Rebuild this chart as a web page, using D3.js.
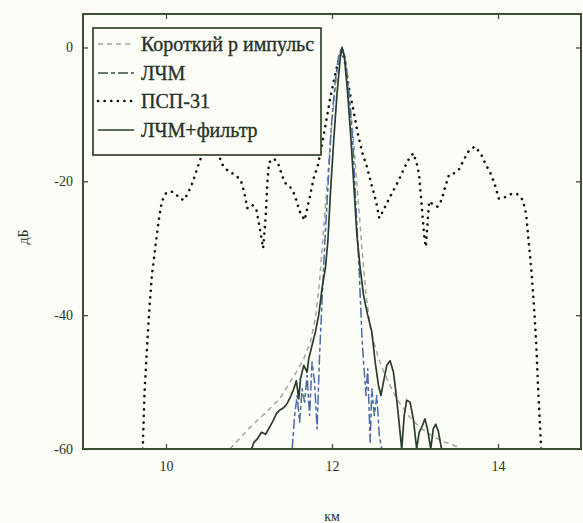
<!DOCTYPE html>
<html>
<head>
<meta charset="utf-8">
<script src="https://cdn.jsdelivr.net/npm/d3@7"></script>
<style>
  html, body { margin: 0; padding: 0; background: #fdfdf8; }
  svg { display: block; }
  svg text { fill: #263326; }
</style>
</head>
<body>
<svg id="chart" width="583" height="523"></svg>
<script>
// Series names, in legend order
const seriesNames = ["Короткий р импульс", "ЛЧМ", "ПСП-31", "ЛЧМ+фильтр"];

// Axis ticks
const xTicks = [10, 12, 14];
const yTicks = [0, -20, -40, -60];

// Range (km) and level (dB) samples for each series
const shortPulseX = [10.77,10.89,11.01,11.13,11.25,11.37,11.47,11.57,11.66,11.74,11.80,11.85,11.90,11.95,12.00,12.05,12.09,12.12,12.16,12.21,12.26,12.31,12.36,12.41,12.47,12.56,12.66,12.78,12.92,13.06,13.20,13.34,13.46,13.56];
const shortPulseY = [-60,-58.4,-56.8,-55.4,-54,-52.5,-50.5,-48.5,-46.5,-44,-40.5,-35,-27,-19,-11,-5,-1.5,0,-2,-7,-14,-22,-30,-37,-42.5,-46.5,-49.5,-52.5,-55,-56.8,-58,-58.9,-59.4,-60];

const lfmX = [11.52,11.55,11.58,11.61,11.64,11.67,11.70,11.73,11.76,11.79,11.82,11.85,11.88,11.91,11.95,11.99,12.04,12.08,12.12,12.16,12.20,12.25,12.29,12.33,12.36,12.38,12.41,12.43,12.46,12.48,12.51,12.54,12.57,12.60];
const lfmY = [-60,-55,-52,-56,-51,-53,-49,-55,-47,-50,-57,-46,-38,-30,-21,-12,-5,-1.2,0,-1.5,-6,-14,-24,-34,-43,-47,-52,-48,-59,-51,-55,-52,-58,-60];

const prsX = [9.72,9.74,9.77,9.80,9.83,9.87,9.91,9.95,10.00,10.06,10.11,10.17,10.22,10.27,10.32,10.37,10.42,10.48,10.55,10.62,10.68,10.75,10.83,10.90,10.94,10.98,11.04,11.09,11.13,11.17,11.20,11.22,11.24,11.30,11.35,11.39,11.43,11.49,11.55,11.61,11.67,11.73,11.78,11.83,11.88,11.93,11.98,12.03,12.08,12.12,12.16,12.21,12.26,12.31,12.36,12.42,12.47,12.53,12.57,12.62,12.68,12.73,12.79,12.86,12.92,12.98,13.02,13.05,13.07,13.09,13.11,13.13,13.17,13.22,13.27,13.32,13.36,13.41,13.47,13.53,13.58,13.64,13.72,13.79,13.85,13.91,13.96,14.01,14.08,14.16,14.23,14.30,14.34,14.37,14.40,14.43,14.46,14.48,14.50,14.52];
const prsY = [-60,-52,-45,-39,-34,-30,-26,-23,-21.8,-21.5,-21.8,-22.6,-22.8,-21.6,-20.2,-18.3,-16.5,-15.2,-14.8,-15.6,-17.5,-18.5,-19.0,-19.8,-21.5,-24.0,-23.5,-24.3,-27.0,-30.0,-25.5,-20.5,-17.2,-16.6,-17.3,-18.8,-20.2,-20.7,-22.0,-24.5,-25.8,-22.5,-19.5,-17.6,-14.5,-11.0,-7.5,-4.5,-1.8,-0.3,-2.5,-6.5,-9.5,-12.8,-15.5,-17.8,-20.2,-23.0,-25.5,-24.3,-22.8,-21.6,-20.2,-18.3,-16.8,-15.8,-17.3,-19.0,-22.0,-25.0,-28.0,-29.8,-23.0,-23.5,-23.8,-22.8,-21.0,-19.0,-18.8,-18.2,-17.0,-15.6,-14.8,-15.8,-17.4,-18.8,-20.4,-22.6,-22.4,-21.9,-21.9,-22.8,-25.0,-29.0,-33.0,-38.0,-44.0,-50.0,-55.0,-60.0];

const lfmFiltX = [11.03,11.06,11.10,11.15,11.20,11.25,11.29,11.33,11.37,11.42,11.46,11.50,11.54,11.57,11.60,11.62,11.66,11.70,11.72,11.76,11.80,11.84,11.88,11.92,11.95,11.98,12.02,12.06,12.10,12.12,12.15,12.19,12.23,12.27,12.30,12.34,12.38,12.43,12.48,12.52,12.56,12.59,12.62,12.66,12.70,12.74,12.77,12.80,12.84,12.87,12.90,12.94,12.98,13.02,13.05,13.09,13.12,13.15,13.19,13.22,13.25,13.28,13.32];
const lfmFiltY = [-60,-59,-58.5,-57.5,-57.8,-56.7,-55.8,-54.7,-54.2,-53.8,-53.2,-52.2,-51.0,-49.8,-52.5,-49.5,-47.5,-48.5,-46.5,-44.5,-42.5,-40,-36,-33,-29,-22,-14,-7,-1.5,0,-1.5,-7,-14,-22,-28,-33,-37,-40,-42.5,-47,-50.5,-52,-50,-47.5,-46.8,-48.5,-51.5,-55,-60,-55,-52.7,-53,-55.5,-60,-57.5,-56.5,-55.5,-57,-60,-57,-56.3,-57.3,-60];

const seriesX = [shortPulseX, lfmX, prsX, lfmFiltX];
const seriesY = [shortPulseY, lfmY, prsY, lfmFiltY];

// Line styles per series
const styles = [
  { color: "#a3a69e", width: 1.5, dash: "5,4" },
  { color: "#4a6aa8", width: 1.5, dash: "10,3,4,3" },
  { color: "#111511", width: 2.6, dash: "0.1,6.5", cap: "round" },
  { color: "#2a3d2a", width: 1.7, dash: null }
];

const frameColor = "#3d4d36";
const fontStack = "Liberation Serif";

const svg = d3.select("#chart");
const plot = { left: 83, right: 581, top: 14, bottom: 449 };

const x = d3.scaleLinear().domain([9, 15]).range([plot.left, plot.right]);
const y = d3.scaleLinear().domain([-60, 5]).range([plot.bottom, plot.top]);

// Clip lines to the axes box
svg.append("defs").append("clipPath").attr("id", "clip")
  .append("rect")
  .attr("x", plot.left).attr("y", plot.top)
  .attr("width", plot.right - plot.left).attr("height", plot.bottom - plot.top);

// Data lines (ПСП-31 first, narrow pulses on top)
const line = d3.line().x(d => x(d[0])).y(d => y(d[1]));
const drawOrder = [2, 0, 1, 3];
const linesG = svg.append("g").attr("clip-path", "url(#clip)");
drawOrder.forEach(i => {
  const pts = seriesX[i].map((v, k) => [v, seriesY[i][k]]);
  const st = styles[i];
  linesG.append("path")
    .datum(pts)
    .attr("d", line)
    .attr("fill", "none")
    .attr("stroke", st.color)
    .attr("stroke-width", st.width)
    .attr("stroke-linecap", st.cap || "butt")
    .attr("stroke-linejoin", "round")
    .attr("stroke-dasharray", st.dash);
});

// Axes: ticks point inward, mirrored on the opposite sides
const tickLen = 5;

const xAxisB = d3.axisBottom(x).tickValues(xTicks).tickSizeInner(-tickLen).tickSizeOuter(0).tickPadding(12)
  .tickFormat(d3.format("d"));
const xAxisT = d3.axisTop(x).tickValues(xTicks).tickSizeInner(-tickLen).tickSizeOuter(0).tickFormat("");
const yAxisL = d3.axisLeft(y).tickValues(yTicks).tickSizeInner(-tickLen).tickSizeOuter(0).tickPadding(10)
  .tickFormat(d => String(d));
const yAxisR = d3.axisRight(y).tickValues(yTicks).tickSizeInner(-tickLen).tickSizeOuter(0).tickFormat("");

function styleAxis(g) {
  g.attr("font-family", fontStack).attr("font-size", 14);
  g.select(".domain").remove();
  g.selectAll(".tick line").attr("stroke", frameColor).attr("stroke-width", 1.3);
  g.selectAll(".tick text").attr("fill", "#263326");
}

svg.append("g").attr("transform", `translate(0,${plot.bottom})`).call(xAxisB).call(styleAxis);
svg.append("g").attr("transform", `translate(0,${plot.top})`).call(xAxisT).call(styleAxis);
svg.append("g").attr("transform", `translate(${plot.left},0)`).call(yAxisL).call(styleAxis);
svg.append("g").attr("transform", `translate(${plot.right},0)`).call(yAxisR).call(styleAxis);

// Axes box
svg.append("rect")
  .attr("x", plot.left).attr("y", plot.top)
  .attr("width", plot.right - plot.left).attr("height", plot.bottom - plot.top)
  .attr("fill", "none").attr("stroke", frameColor).attr("stroke-width", 2);

// Axis titles
svg.append("text")
  .attr("x", x(12)).attr("y", 521)
  .attr("text-anchor", "middle")
  .attr("font-family", fontStack)
  .attr("font-size", 14)
  .text("км");

svg.append("text")
  .attr("transform", `translate(28,237) rotate(-90)`)
  .attr("text-anchor", "middle")
  .attr("font-family", fontStack)
  .attr("font-size", 14)
  .text("дБ");

// Legend
const legend = { x: 93, y: 28, w: 228, h: 127 };
const legG = svg.append("g");
legG.append("rect")
  .attr("x", legend.x).attr("y", legend.y)
  .attr("width", legend.w).attr("height", legend.h)
  .attr("fill", "#fdfdf8").attr("stroke", frameColor).attr("stroke-width", 1.8);

const rowY = [44, 73, 101, 130];
seriesNames.forEach((name, i) => {
  const st = styles[i];
  legG.append("line")
    .attr("x1", 98).attr("x2", 134)
    .attr("y1", rowY[i]).attr("y2", rowY[i])
    .attr("stroke", i === 1 ? "#3c4c3c" : st.color)
    .attr("stroke-width", st.width)
    .attr("stroke-linecap", st.cap || "butt")
    .attr("stroke-dasharray", st.dash);
  legG.append("text")
    .attr("x", 141).attr("y", rowY[i])
    .attr("dy", "0.35em")
    .attr("font-family", fontStack)
    .attr("font-size", 20)
    .attr("stroke", "#263326")
    .attr("stroke-width", 0.35)
    .text(name);
});
</script>
</body>
</html>
